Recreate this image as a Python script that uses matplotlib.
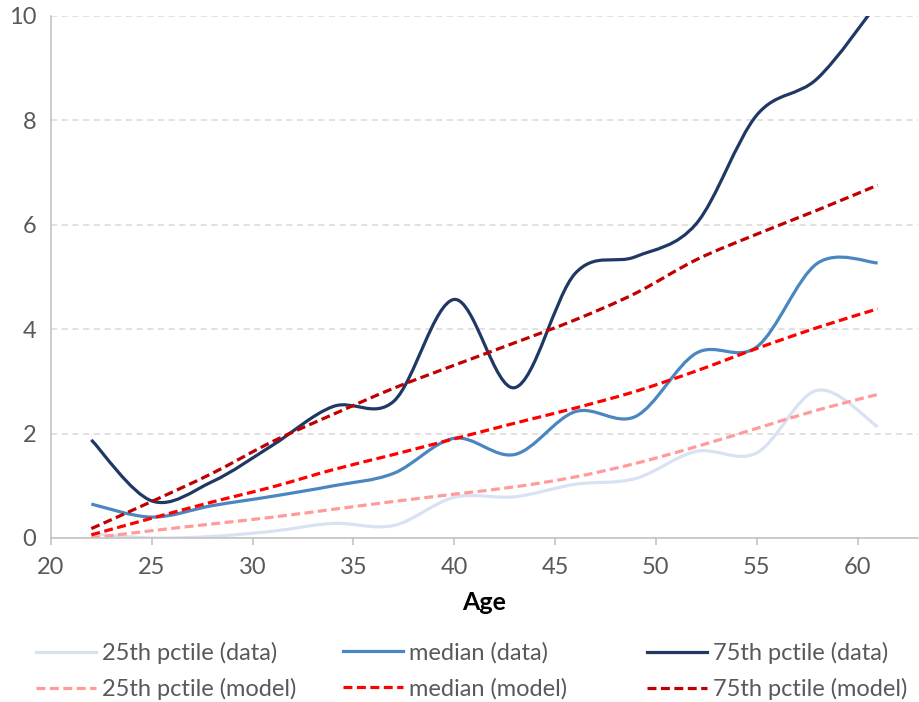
import matplotlib
matplotlib.use('Agg')
import matplotlib.pyplot as plt
from matplotlib.path import Path
from matplotlib.patches import PathPatch
from matplotlib.lines import Line2D
import numpy as np

# ages (every 3 years)
ages = [22, 25, 28, 31, 34, 37, 40, 43, 46, 49, 52, 55, 58, 61]

# data percentiles
p25_data = [0.08, 0.0, 0.03, 0.13, 0.28, 0.24, 0.78, 0.79, 1.03, 1.14, 1.66, 1.63, 2.83, 2.13]
med_data = [0.65, 0.40, 0.62, 0.80, 1.00, 1.24, 1.91, 1.60, 2.42, 2.33, 3.54, 3.66, 5.26, 5.27]
p75_data = [1.88, 0.71, 1.08, 1.78, 2.52, 2.62, 4.57, 2.88, 5.07, 5.39, 6.02, 8.10, 8.80, 10.25]

# model percentiles
p25_model = [0.0, 0.14, 0.27, 0.40, 0.55, 0.70, 0.84, 0.98, 1.17, 1.43, 1.75, 2.10, 2.45, 2.75]
med_model = [0.06, 0.38, 0.69, 0.98, 1.31, 1.60, 1.90, 2.20, 2.49, 2.81, 3.20, 3.63, 4.03, 4.39]
p75_model = [0.18, 0.70, 1.24, 1.85, 2.37, 2.87, 3.31, 3.74, 4.18, 4.69, 5.33, 5.82, 6.28, 6.76]

series = [
    ('25th pctile (data)', p25_data, '#D9E2F3', '-'),
    ('median (data)', med_data, '#4A86C0', '-'),
    ('75th pctile (data)', p75_data, '#1F3864', '-'),
    ('25th pctile (model)', p25_model, '#FF9B9B', '--'),
    ('median (model)', med_model, '#FF0000', '--'),
    ('75th pctile (model)', p75_model, '#C00000', '--'),
]

GRAY = '#595959'
LW = 2.3
DASH = (0, (2.8, 1.4))
FS = 17

plt.rcParams['font.family'] = ['Lato', 'DejaVu Sans']


def smooth_path(x, y):
    # excel-like smoothed line: cubic bezier segments through every point
    pts = np.column_stack([x, y]).astype(float)
    n = len(pts)
    verts = [pts[0]]
    codes = [Path.MOVETO]
    for i in range(n - 1):
        p0 = pts[i - 1] if i > 0 else pts[i]
        p1 = pts[i]
        p2 = pts[i + 1]
        p3 = pts[i + 2] if i + 2 < n else pts[i + 1]
        c1 = p1 + (p2 - p0) / 6.0
        c2 = p2 - (p3 - p1) / 6.0
        verts += [c1, c2, p2]
        codes += [Path.CURVE4] * 3
    return Path(verts, codes)


fig = plt.figure(figsize=(9.2, 7.02), dpi=100)
ax = fig.add_axes([51 / 920, 1 - 538 / 702, (918 - 51) / 920, (538 - 16) / 702])

for label, vals, color, ls in series:
    patch = PathPatch(smooth_path(ages, vals), fill=False, edgecolor=color,
                      lw=LW, linestyle=DASH if ls == '--' else '-',
                      capstyle='butt', joinstyle='round')
    ax.add_patch(patch)

ax.set_xlim(20, 63)
ax.set_ylim(0, 10)
ax.set_xticks(range(20, 61, 5))
ax.set_yticks(range(0, 11, 2))
ax.grid(axis='y', color='#D9D9D9', linestyle=(0, (4, 3)), lw=1.1)
ax.set_axisbelow(True)

for s in ['top', 'right']:
    ax.spines[s].set_visible(False)
for s in ['left', 'bottom']:
    ax.spines[s].set_color('#BFBFBF')
    ax.spines[s].set_linewidth(1.1)

ax.tick_params(axis='x', direction='out', length=5, width=1.1, color='#BFBFBF',
               labelsize=FS, labelcolor=GRAY, pad=9)
ax.tick_params(axis='y', length=0, labelsize=FS, labelcolor=GRAY, pad=10.5)
ax.set_xlabel('Age', fontsize=18, fontweight='bold', color='black', labelpad=9)

# legend: three columns, placed like excel spreads them
col_x = [36 / 920, 343 / 920, 647 / 920]
for c in range(3):
    handles = []
    labels = []
    for label, vals, color, ls in [series[c], series[c + 3]]:
        handles.append(Line2D([], [], color=color, lw=LW,
                              linestyle=DASH if ls == '--' else '-'))
        labels.append(label)
    fig.legend(handles, labels, loc='upper left', bbox_to_anchor=(col_x[c], 1 - 642 / 702),
               frameon=False, fontsize=FS, labelcolor=GRAY, handlelength=2.55,
               handletextpad=0.25, labelspacing=0.6, borderpad=0, borderaxespad=0)

fig.savefig('out.png', dpi=100)
